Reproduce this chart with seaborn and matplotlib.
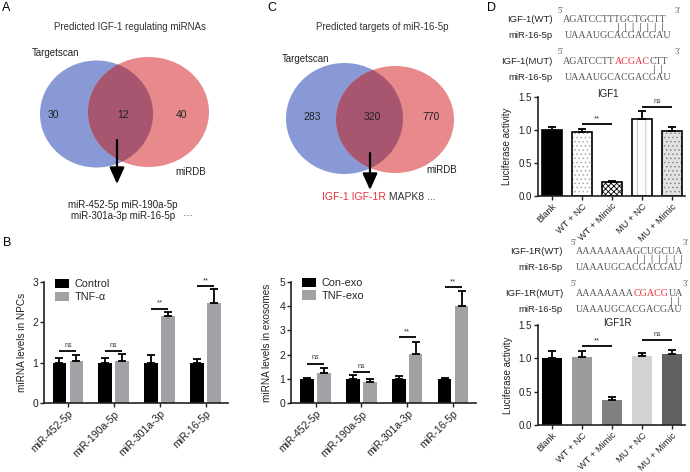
import numpy as np
import pandas as pd
import matplotlib
matplotlib.use("Agg")
import matplotlib.pyplot as plt
import seaborn as sns
from matplotlib.patches import Ellipse, Rectangle

# ---------------- data ----------------
venn_a_title = "Predicted IGF-1 regulating miRNAs"
venn_a_counts = [30, 12, 40]
venn_c_title = "Predicted targets of miR-16-5p"
venn_c_counts = [283, 320, 770]
venn_sets = ["Targetscan", "miRDB"]
venn_a_result = ["miR-452-5p miR-190a-5p", "miR-301a-3p miR-16-5p   \u00b7\u00b7\u00b7"]
venn_c_genes = [("IGF-1 IGF-1R", "#e8323c"), (" MAPK8 ...", "#333333")]

mirnas = ["miR-452-5p", "miR-190a-5p", "miR-301a-3p", "miR-16-5p"]
npc_groups = ["Control", "TNF-\u03b1"]
npc_control = [1.0, 1.0, 1.0, 1.0]
npc_control_err = [0.11, 0.11, 0.18, 0.09]
npc_tnf = [1.03, 1.03, 2.15, 2.48]
npc_tnf_err = [0.17, 0.18, 0.10, 0.35]
npc_sig = ["ns", "ns", "**", "**"]
npc_sig_y = [1.28, 1.28, 2.33, 2.89]

exo_groups = ["Con-exo", "TNF-exo"]
exo_con = [1.0, 1.0, 1.0, 1.0]
exo_con_err = [0.02, 0.15, 0.10, 0.02]
exo_tnf = [1.22, 0.88, 2.02, 4.0]
exo_tnf_err = [0.22, 0.10, 0.50, 0.63]
exo_sig = ["ns", "ns", "**", "**"]
exo_sig_y = [1.63, 1.28, 2.71, 4.78]

luc_groups = ["Blank", "WT + NC", "WT + Mimic", "MU + NC", "MU + Mimic"]
igf1_luc = [1.0, 0.97, 0.21, 1.16, 0.98]
igf1_err = [0.05, 0.04, 0.02, 0.13, 0.06]
igf1r_luc = [1.0, 1.02, 0.37, 1.04, 1.06]
igf1r_err = [0.11, 0.09, 0.05, 0.04, 0.06]
luc_sig = [("**", 1, 2), ("ns", 3, 4)]
igf1_sig_y = [1.09, 1.35]
igf1r_sig_y = [1.18, 1.27]

mir_seq = "UAAAUGCACGACGAU"
igf1_wt = [("AGATCCTTTGCTGCTT", "#555555")]
igf1_mut = [("AGATCCTT", "#555555"), ("ACGAC", "#e8323c"), ("CTT", "#555555")]
igf1r_wt = [("AAAAAAAAGCUGCUA", "#555555")]
igf1r_mut = [("AAAAAAAA", "#555555"), ("CGACG", "#e8323c"), ("UA", "#555555")]

# ---------------- style ----------------
sns.set_style("ticks")
plt.rcParams["font.family"] = ["Liberation Sans", "DejaVu Sans"]
plt.rcParams["hatch.linewidth"] = 0.6
TXT = "#222222"

W, H = 690, 472
fig = plt.figure(figsize=(6.9, 4.72), dpi=100)

ov = fig.add_axes([0, 0, 1, 1])
ov.set_xlim(0, W)
ov.set_ylim(H, 0)
ov.axis("off")


def px_axes(l, t, r, b):
    ax = fig.add_axes([l / W, 1 - b / H, (r - l) / W, (b - t) / H])
    ax.set_facecolor("none")
    return ax


# ---------------- panel letters ----------------
for lab, x, y in [("A", 2, 8), ("C", 267, 8), ("B", 3, 243), ("D", 487, 8)]:
    ov.text(x, y, lab, fontsize=9, ha="left", va="center", color="black")

# ---------------- Venn diagrams ----------------
BLUE, RED, OVER = "#8899d6", "#e88a8b", "#a8566f"


def venn(c1, s1, c2, s2, counts, count_pos, title, title_pos, set_pos, arrow):
    e1 = Ellipse(c1, *s1, facecolor=BLUE, edgecolor="none")
    e2 = Ellipse(c2, *s2, facecolor=RED, edgecolor="none")
    e3 = Ellipse(c1, *s1, facecolor=OVER, edgecolor="none")
    for e in (e1, e2, e3):
        ov.add_patch(e)
    e3.set_clip_path(e2)
    for n, (x, y) in zip(counts, count_pos):
        ov.text(x, y, str(n), ha="center", va="center", fontsize=7.5, color=TXT)
    ov.text(*title_pos, title, ha="center", va="center", fontsize=7, color="#333333")
    for name, (x, y) in zip(venn_sets, set_pos):
        ov.text(x, y, name, ha="left", va="center", fontsize=7, color=TXT)
    ov.annotate("", xy=arrow[1], xytext=arrow[0],
                arrowprops=dict(arrowstyle="-|>,head_length=1.0,head_width=0.45",
                                lw=1.6, color="black", shrinkA=0, shrinkB=0))


venn((96.5, 114), (113, 107), (148.5, 112), (121, 110), venn_a_counts,
     [(53, 115), (123, 115), (182, 115)], venn_a_title, (130, 27),
     [(32, 53), (175, 172)], [(117, 140), (117, 184)])
venn((344.5, 118.5), (117, 111), (395, 119.5), (118, 107), venn_c_counts,
     [(312, 117), (372, 117), (431, 117)], venn_c_title, (382, 27),
     [(282, 59), (426, 170)], [(370, 153), (370, 190)])

ov.text(123, 205, venn_a_result[0], ha="center", va="center", fontsize=7, color=TXT)
ov.text(71, 216, venn_a_result[1], ha="left", va="center", fontsize=7, color=TXT)


def chain(x, y, parts, **kw):
    prev = ov.text(x, y, parts[0][0], color=parts[0][1], ha="left", va="center", **kw)
    for s, c in parts[1:]:
        prev = ov.annotate(s, xy=(1, 0.5), xycoords=prev, ha="left", va="center",
                           color=c, **kw)


chain(322, 197, venn_c_genes, fontsize=7.5)

# ---------------- panel B: grouped bar charts ----------------


def grouped(ax, names, v1, e1, v2, e2, sig, sig_y, ylim, yticks, ylabel, xlim,
            lab_x, leg_anchor):
    df = pd.DataFrame({"miRNA": mirnas * 2,
                       "group": [names[0]] * len(mirnas) + [names[1]] * len(mirnas),
                       "value": v1 + v2})
    sns.barplot(df, x="miRNA", y="value", hue="group", palette=["black", "#a2a2a6"],
                width=0.74, gap=0.2, errorbar=None, saturation=1, linewidth=0, ax=ax)
    for cont, err in zip(ax.containers, [e1, e2]):
        xs = [b.get_x() + b.get_width() / 2 for b in cont]
        hs = [b.get_height() for b in cont]
        ax.errorbar(xs, hs, yerr=[np.zeros(len(err)), err], fmt="none", ecolor="black",
                    elinewidth=1.3, capsize=2.6, capthick=1.3, zorder=3)
    for b0, b1, s, y in zip(ax.containers[0], ax.containers[1], sig, sig_y):
        x0 = b0.get_x() + b0.get_width() / 2
        x1 = b1.get_x() + b1.get_width() / 2
        ax.plot([x0, x1], [y, y], color="black", lw=1.3, solid_capstyle="butt")
        ax.text((x0 + x1) / 2, y + (ylim[1] * 0.02), s, ha="center", va="bottom",
                fontsize=5.5 if s == "**" else 5, color="#333333")
    ax.set_ylim(*ylim)
    ax.set_xlim(*xlim)
    ax.set_yticks(yticks)
    ax.set_xlabel("")
    ax.set_ylabel(ylabel, fontsize=7.2, color=TXT)
    ax.yaxis.set_label_coords(lab_x, 0.5)
    ax.tick_params(labelsize=7.5)
    ax.legend(loc="upper left", bbox_to_anchor=leg_anchor, frameon=False, fontsize=7.8,
              handlelength=1.3, handleheight=0.95, handletextpad=0.5, labelspacing=0.2,
              borderpad=0, borderaxespad=0)


ax_b = px_axes(44, 282, 228, 403)
grouped(ax_b, npc_groups, npc_control, npc_control_err, npc_tnf, npc_tnf_err, npc_sig,
        npc_sig_y, (0, 3), [0, 1, 2, 3], "miRNA levels in NPCs", (-0.52, 3.49),
        -0.092, (0.06, 1.025))
ax_e = px_axes(291, 282, 476, 403)
grouped(ax_e, exo_groups, exo_con, exo_con_err, exo_tnf, exo_tnf_err, exo_sig,
        exo_sig_y, (0, 5), [0, 1, 2, 3, 4, 5], "miRNA levels in exosomes",
        (-0.535, 3.5), -0.103, (0.06, 1.035))

# ---------------- panel D: luciferase ----------------


def luc(ax, vals, errs, colors, hatches, hatch_cols, outline, sig_y, lab_x):
    df = pd.DataFrame({"group": luc_groups, "value": vals})
    sns.barplot(df, x="group", y="value", hue="group", palette=colors, width=0.67,
                errorbar=None, saturation=1, legend=False, linewidth=0, ax=ax)
    bars = sorted(ax.patches, key=lambda p: p.get_x())
    for p, h, hc in zip(bars, hatches, hatch_cols):
        if h:
            p.set_hatch(h)
            p.set_edgecolor(hc)
            p.set_linewidth(0)
        if outline:
            ax.add_patch(Rectangle((p.get_x(), p.get_y()), p.get_width(), p.get_height(),
                                   fill=False, edgecolor="black", lw=1.2, zorder=2.5))
    xs = [p.get_x() + p.get_width() / 2 for p in bars]
    hs = [p.get_height() for p in bars]
    ax.errorbar(xs, hs, yerr=[np.zeros(len(errs)), errs], fmt="none", ecolor="black",
                elinewidth=1.3, capsize=3, capthick=1.3, zorder=3)
    for (s, i, j), y in zip(luc_sig, sig_y):
        ax.plot([xs[i], xs[j]], [y, y], color="black", lw=1.3, solid_capstyle="butt")
        ax.text((xs[i] + xs[j]) / 2, y + 0.03, s, ha="center", va="bottom",
                fontsize=5.5 if s == "**" else 5, color="#333333")
    ax.set_ylim(0, 1.5)
    ax.set_xlim(-0.47, 4.43)
    ax.set_yticks([0, 0.5, 1.0, 1.5])
    ax.set_yticklabels(["0.0", "0.5", "1.0", "1.5"])
    ax.set_xlabel("")
    ax.set_ylabel("Luciferase activity", fontsize=7, color=TXT)
    ax.yaxis.set_label_coords(lab_x, 0.5)
    ax.tick_params(labelsize=7)
    ax.tick_params(axis="x", labelsize=6.7)


ax_l1 = px_axes(538, 97, 685, 196)
luc(ax_l1, igf1_luc, igf1_err,
    ["black", "white", "white", "white", "#e2e2e2"],
    [None, "....", "xxxxxx", "||", "...."],
    [None, "#aaaaaa", "black", "#bbbbbb", "#8a8a8a"], True, igf1_sig_y, -0.18)
ax_l2 = px_axes(538, 325, 685, 425)
luc(ax_l2, igf1r_luc, igf1r_err,
    ["black", "#9c9c9c", "#808080", "#d2d2d2", "#606060"],
    [None] * 5, [None] * 5, False, igf1r_sig_y, -0.17)

# ---------------- common axis styling ----------------
for ax in (ax_b, ax_e, ax_l1, ax_l2):
    sns.despine(ax=ax)
    for sp in ("left", "bottom"):
        ax.spines[sp].set_linewidth(1.2)
        ax.spines[sp].set_color("#222222")
    ax.tick_params(direction="out", length=3, width=1, pad=1.2, colors="#222222")
    for lab in ax.get_xticklabels():
        lab.set_rotation(45)
        lab.set_ha("right")
        lab.set_rotation_mode("anchor")

# ---------------- sequences ----------------
SEQ = dict(fontsize=7.2, family=["Liberation Serif", "DejaVu Serif"])
LAB = dict(fontsize=6.8, color=TXT, ha="right", va="center")
PAIR = dict(fontsize=5.5, color="#444444", ha="left", va="center", family="DejaVu Sans")
PRIME = dict(fontsize=6, color="#555555", ha="left", va="center",
             family=["Liberation Serif", "DejaVu Serif"])


def seq_block(lab_x, seq_x, y0, label, parts, pair_x, pairs, mir_x, prime3_x):
    ov.text(seq_x - 5, y0 - 9, "5\u2032", **PRIME)
    ov.text(lab_x, y0, label, **LAB)
    chain(seq_x, y0, parts, **SEQ)
    ov.text(prime3_x, y0 - 9, "3\u2032", **PRIME)
    ov.text(pair_x, y0 + 8, "  ".join(["|"] * pairs), **PAIR)
    ov.text(lab_x, y0 + 16, "miR-16-5p", **LAB)
    ov.text(mir_x, y0 + 16, mir_seq, color="#555555", ha="left", va="center", **SEQ)


seq_block(553, 563, 20, "IGF-1(WT)", igf1_wt, 617, 7, 565, 675)
seq_block(553, 563, 61, "IGF-1(MUT)", igf1_mut, 653, 2, 565, 675)
ov.text(608, 94, "IGF1", ha="center", va="center", fontsize=7, color=TXT)

seq_block(563, 576, 252, "IGF-1R(WT)", igf1r_wt, 636, 7, 576, 683)
seq_block(563, 576, 293, "IGF-1R(MUT)", igf1r_mut, 670, 2, 576, 683)
ov.text(617, 323, "IGF1R", ha="center", va="center", fontsize=7, color=TXT)

fig.savefig("out.png", dpi=100)
